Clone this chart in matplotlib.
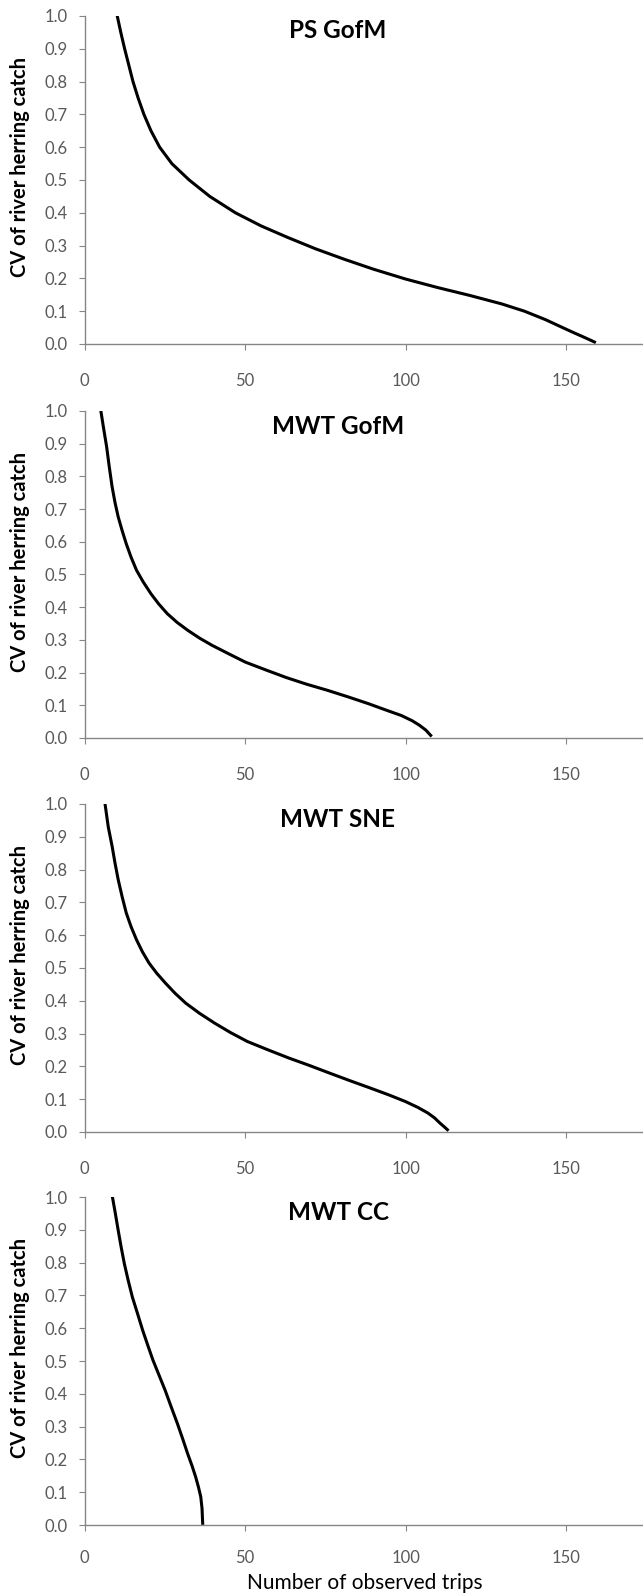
import numpy as np
import matplotlib
matplotlib.use('Agg')
import matplotlib.pyplot as plt

plt.rcParams['font.family'] = ['Lato', 'DejaVu Sans']

# ── Data ──────────────────────────────────────────────────────────────────────

titles = ['PS GofM', 'MWT GofM', 'MWT SNE', 'MWT CC']

ps_gofm_trips = [10.2, 11.3, 12.5, 13.8, 15.1, 16.7, 18.5, 20.7, 23.4, 27.2,
                 32.6, 39.0, 47.0, 55.0, 63.0, 72.0, 81.0, 90.0, 100.0, 110.0,
                 120.0, 130.0, 137.0, 143.6, 148.0, 152.0, 155.0, 157.5, 158.8]
ps_gofm_cv    = [1.00, 0.95, 0.90, 0.85, 0.80, 0.75, 0.70, 0.65, 0.60, 0.55,
                 0.50, 0.45, 0.40, 0.36, 0.326, 0.29, 0.258, 0.228, 0.198, 0.172,
                 0.148, 0.122, 0.100, 0.074, 0.054, 0.036, 0.023, 0.012, 0.006]

mwt_gofm_trips = [5.1, 5.9, 6.9, 7.7, 8.6, 9.5, 10.5, 11.7, 13.0, 14.5,
                  16.2, 18.3, 20.7, 23.1, 25.8, 28.9, 32.2, 35.9, 39.8, 45.0,
                  50.1, 56.5, 62.8, 69.0, 75.6, 82.0, 88.4, 94.0, 98.6, 102.0,
                  104.3, 106.3, 107.8]
mwt_gofm_cv    = [1.00, 0.95, 0.89, 0.83, 0.768, 0.72, 0.676, 0.635, 0.594, 0.553,
                  0.513, 0.477, 0.441, 0.41, 0.38, 0.353, 0.329, 0.305, 0.283, 0.257,
                  0.232, 0.208, 0.185, 0.165, 0.146, 0.126, 0.105, 0.085, 0.069, 0.053,
                  0.039, 0.024, 0.008]

mwt_sne_trips = [6.4, 7.4, 8.6, 9.5, 10.5, 11.7, 13.0, 14.5, 16.2, 18.0,
                 20.1, 22.5, 25.2, 28.2, 31.5, 35.8, 40.5, 45.5, 50.7, 57.0,
                 63.5, 70.0, 76.2, 82.5, 89.0, 94.8, 99.9, 103.8, 106.9, 109.0,
                 110.7, 112.0, 113.0]
mwt_sne_cv    = [1.00, 0.93, 0.871, 0.82, 0.769, 0.718, 0.668, 0.626, 0.586, 0.55,
                 0.515, 0.484, 0.454, 0.423, 0.393, 0.362, 0.332, 0.303, 0.276, 0.251,
                 0.226, 0.203, 0.180, 0.157, 0.134, 0.113, 0.093, 0.075, 0.058, 0.043,
                 0.027, 0.016, 0.007]

mwt_cc_trips = [8.7, 9.6, 10.5, 11.4, 12.4, 13.6, 14.9, 16.5, 18.1, 19.7,
                21.3, 23.2, 25.1, 27.0, 28.9, 30.6, 32.1, 33.5, 34.6, 35.5,
                36.2, 36.6, 36.8]
mwt_cc_cv    = [1.00, 0.95, 0.898, 0.848, 0.797, 0.746, 0.695, 0.645, 0.594, 0.548,
                0.503, 0.457, 0.411, 0.36, 0.31, 0.262, 0.218, 0.18, 0.147, 0.115,
                0.086, 0.05, 0.005]

series = [(ps_gofm_trips, ps_gofm_cv), (mwt_gofm_trips, mwt_gofm_cv),
          (mwt_sne_trips, mwt_sne_cv), (mwt_cc_trips, mwt_cc_cv)]

x_ticks = [0, 50, 100, 150]
y_ticks = np.round(np.arange(0, 1.01, 0.1), 1)

# ── Layout (pixel positions of each panel, measured from the top) ────────────

W, H = 643, 1593
AX_LEFT = 84.5
AX_WIDTH = 562
panel_tops    = [16, 411, 804, 1197]
panel_bottoms = [344, 738, 1132, 1525]
x_label_pads  = [17, 17, 17, 14]

AXIS_GREY = '#868686'
TICK_GREY = '#595959'

fig = plt.figure(figsize=(W / 100, H / 100), dpi=100)

for i, (title, (xs, ys)) in enumerate(zip(titles, series)):
    top, bot = panel_tops[i], panel_bottoms[i]
    ax = fig.add_axes([AX_LEFT / W, 1 - bot / H, AX_WIDTH / W, (bot - top) / H])
    ax.plot(xs, ys, color='black', linewidth=2.2, solid_joinstyle='round')

    ax.set_xlim(0, 175)
    ax.set_ylim(0, 1.0)
    ax.set_xticks(x_ticks)
    ax.set_yticks(y_ticks)
    ax.set_yticklabels([f'{v:.1f}' for v in y_ticks])

    for s in ('top', 'right'):
        ax.spines[s].set_visible(False)
    for s in ('left', 'bottom'):
        ax.spines[s].set_color(AXIS_GREY)
        ax.spines[s].set_linewidth(1.0)

    ax.tick_params(axis='both', direction='out', length=4, width=0.8,
                   color=AXIS_GREY, labelcolor=TICK_GREY, labelsize=12)
    ax.tick_params(axis='x', pad=x_label_pads[i])
    ax.tick_params(axis='y', pad=8)

    # panel title, centred a little left of the plot centre
    fig.text(338 / W, 1 - (top + 15) / H, title, ha='center', va='center',
             fontsize=17.5, fontweight='bold')

    # y label
    ax.text((20 - AX_LEFT) / AX_WIDTH, 1 - 151 / (bot - top),
            'CV of river herring catch', transform=ax.transAxes,
            rotation=90, ha='center', va='center', fontsize=14.5, fontweight='bold')

    if i == len(titles) - 1:
        fig.text((AX_LEFT + 280) / W, 1 - 1583 / H, 'Number of observed trips',
                 ha='center', va='center', fontsize=15)

fig.savefig('out.png', dpi=100)
